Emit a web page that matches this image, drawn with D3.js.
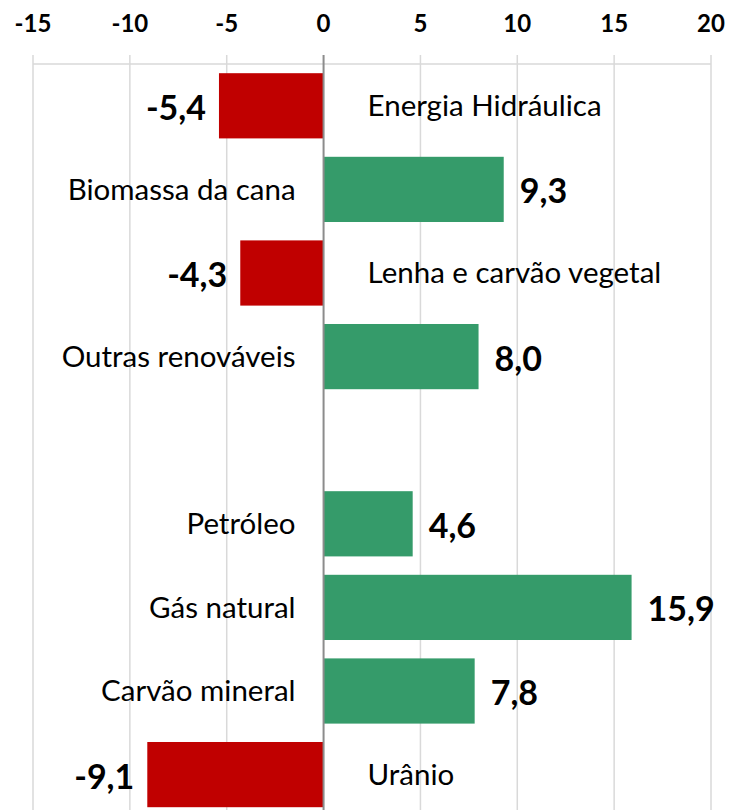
<!DOCTYPE html>
<html>
<head>
<meta charset="utf-8">
<script src="https://cdn.jsdelivr.net/npm/d3@7"></script>
<style>
  body { margin: 0; background: #fff; }
  svg text { font-family: "Lato", "Open Sans", sans-serif; fill: #000; }
</style>
</head>
<body>
<div id="chart"></div>
<script>
var w = 736
var h = 810

// data
var categories = ["Energia Hidráulica", "Biomassa da cana", "Lenha e carvão vegetal", "Outras renováveis", "",
                  "Petróleo", "Gás natural", "Carvão mineral", "Urânio"]
var values = [-5.4, 9.3, -4.3, 8.0, null, 4.6, 15.9, 7.8, -9.1]
var ticks = [-15, -10, -5, 0, 5, 10, 15, 20]

var svg = d3.select("#chart").append("svg").attr("width", w).attr("height", h)

var x = d3.scaleLinear().domain([-15, 20]).range([33, 711])
var y = d3.scaleBand().domain(d3.range(categories.length))
    .range([64, 816.4]).paddingInner(0.22).paddingOuter(0.11)

// grid lines
svg.selectAll("line.grid").data(ticks.filter(function(t){ return t != 0 }))
    .enter().append("line")
    .attr("x1", function(d){ return x(d) }).attr("x2", function(d){ return x(d) })
    .attr("y1", 55).attr("y2", h)
    .attr("stroke", "#d9d9d9").attr("stroke-width", 1.5)

svg.append("line").attr("x1", x(-15)).attr("x2", x(20)).attr("y1", 64).attr("y2", 64)
    .attr("stroke", "#d9d9d9").attr("stroke-width", 1.5)

// top axis labels
svg.selectAll("text.tick").data(ticks).enter().append("text")
    .attr("x", function(d){ return x(d) })
    .attr("y", 32)
    .attr("text-anchor", "middle")
    .style("font-size", "24px").style("font-weight", "bold")
    .text(function(d){ return d })

var rows = categories.map(function(c, i){ return { name: c, value: values[i], i: i } })
    .filter(function(d){ return d.value != null })

// bars
svg.selectAll("rect.bar").data(rows).enter().append("rect")
    .attr("x", function(d){ return x(Math.min(0, d.value)) })
    .attr("width", function(d){ return Math.abs(x(d.value) - x(0)) })
    .attr("y", function(d){ return y(d.i) })
    .attr("height", y.bandwidth())
    .attr("fill", function(d){ return d.value < 0 ? "#c00000" : "#359b6a" })

// zero line
svg.append("line").attr("x1", x(0)).attr("x2", x(0)).attr("y1", 55).attr("y2", h)
    .attr("stroke", "#8c8c8c").attr("stroke-width", 2)

// category labels, on the other side of zero
svg.selectAll("text.cat").data(rows).enter().append("text")
    .attr("x", function(d){ return d.value < 0 ? x(0) + 44 : x(0) - 28 })
    .attr("y", function(d){ return y(d.i) + y.bandwidth() / 2 })
    .attr("dy", "0.35em")
    .attr("text-anchor", function(d){ return d.value < 0 ? "start" : "end" })
    .style("font-size", "29.5px")
    .text(function(d){ return d.name })

// value labels
svg.selectAll("text.val").data(rows).enter().append("text")
    .attr("x", function(d){ return d.value < 0 ? x(d.value) - 13 : x(d.value) + 16 })
    .attr("y", function(d){ return y(d.i) + y.bandwidth() / 2 + 2 })
    .attr("dy", "0.35em")
    .attr("text-anchor", function(d){ return d.value < 0 ? "end" : "start" })
    .style("font-size", "34px").style("font-weight", "bold")
    .text(function(d){ return d3.format(".1f")(d.value).replace(".", ",").replace("−", "-") })
</script>
</body>
</html>
